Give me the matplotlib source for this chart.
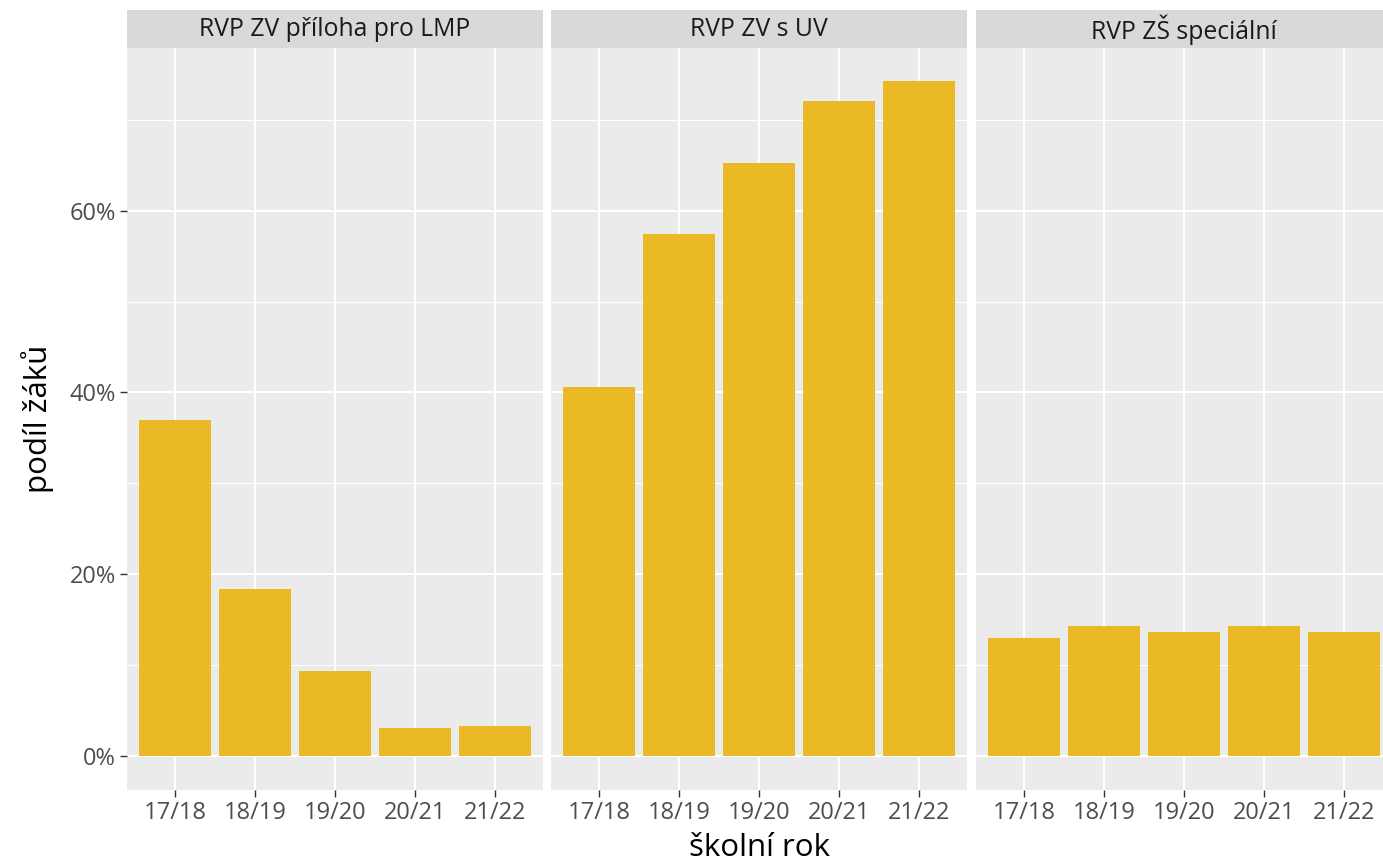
import matplotlib
matplotlib.use('Agg')
import matplotlib.pyplot as plt
from matplotlib.ticker import FixedLocator, FuncFormatter

# ---- data ----
years = ['17/18', '18/19', '19/20', '20/21', '21/22']
facets = ['RVP ZV příloha pro LMP', 'RVP ZV s UV', 'RVP ZŠ speciální']
share_lmp = [37.0, 18.4, 9.4, 3.1, 3.3]
share_uv = [40.6, 57.4, 65.2, 72.0, 74.2]
share_spec = [13.0, 14.3, 13.7, 14.3, 13.7]
y_major = [0, 20, 40, 60]
y_minor = [10, 30, 50, 70]
x_title = 'školní rok'
y_title = 'podíl žáků'

series = [share_lmp, share_uv, share_spec]

plt.rcParams['font.family'] = ['Open Sans', 'DejaVu Sans']

W, H = 1383, 861
fig = plt.figure(figsize=(W / 100, H / 100), dpi=100)

bar_color = '#EBB925'
panel_bg = '#EBEBEB'
strip_bg = '#D9D9D9'

ymax = max(max(s) for s in series)
ylim = (-0.05 * ymax, 1.05 * ymax)

lefts = [127, 551, 976]
pw = 416
p_top, p_bot = 47.7, 790
s_top = 10

def fx(px):
    return px / W

def fy(py):
    return 1 - py / H

for i, (name, vals) in enumerate(zip(facets, series)):
    ax = fig.add_axes([fx(lefts[i]), fy(p_bot), pw / W, (p_bot - p_top) / H])
    ax.set_facecolor(panel_bg)
    x = list(range(len(years)))
    ax.set_xlim(-0.6, len(years) - 1 + 0.6)
    ax.set_ylim(*ylim)
    ax.yaxis.set_major_locator(FixedLocator(y_major))
    ax.yaxis.set_minor_locator(FixedLocator(y_minor))
    ax.set_xticks(x)
    ax.set_xticklabels(years)
    ax.grid(which='major', axis='both', color='white', linewidth=1.5, zorder=0)
    ax.grid(which='minor', axis='y', color='white', linewidth=0.75, zorder=0)
    ax.set_axisbelow(True)
    ax.bar(x, vals, width=0.9, color=bar_color, zorder=2)
    for sp in ax.spines.values():
        sp.set_visible(False)
    ax.tick_params(axis='both', which='major', length=5, width=1.0, color='#333333',
                   labelsize=17, labelcolor='#4D4D4D', pad=3)
    ax.tick_params(axis='y', which='minor', length=0)
    if i == 0:
        ax.yaxis.set_major_formatter(FuncFormatter(lambda v, p: f'{v:.0f}%'))
    else:
        ax.tick_params(axis='y', which='major', length=0, labelleft=False)

    # strip
    sax = fig.add_axes([fx(lefts[i]), fy(p_top), pw / W, (p_top - s_top) / H])
    sax.set_facecolor(strip_bg)
    sax.set_xticks([])
    sax.set_yticks([])
    for sp in sax.spines.values():
        sp.set_visible(False)
    sax.text(0.5, 0.48, name, ha='center', va='center', fontsize=17.8,
             color='#1A1A1A', transform=sax.transAxes)

fig.text(fx((lefts[0] + lefts[2] + pw) / 2), fy(848), x_title, ha='center', va='center',
         fontsize=22.5, color='black')
fig.text(fx(38), fy((p_top + p_bot) / 2), y_title, ha='center', va='center',
         rotation=90, fontsize=22.5, color='black')

fig.savefig('out.png', dpi=100, facecolor='white')
